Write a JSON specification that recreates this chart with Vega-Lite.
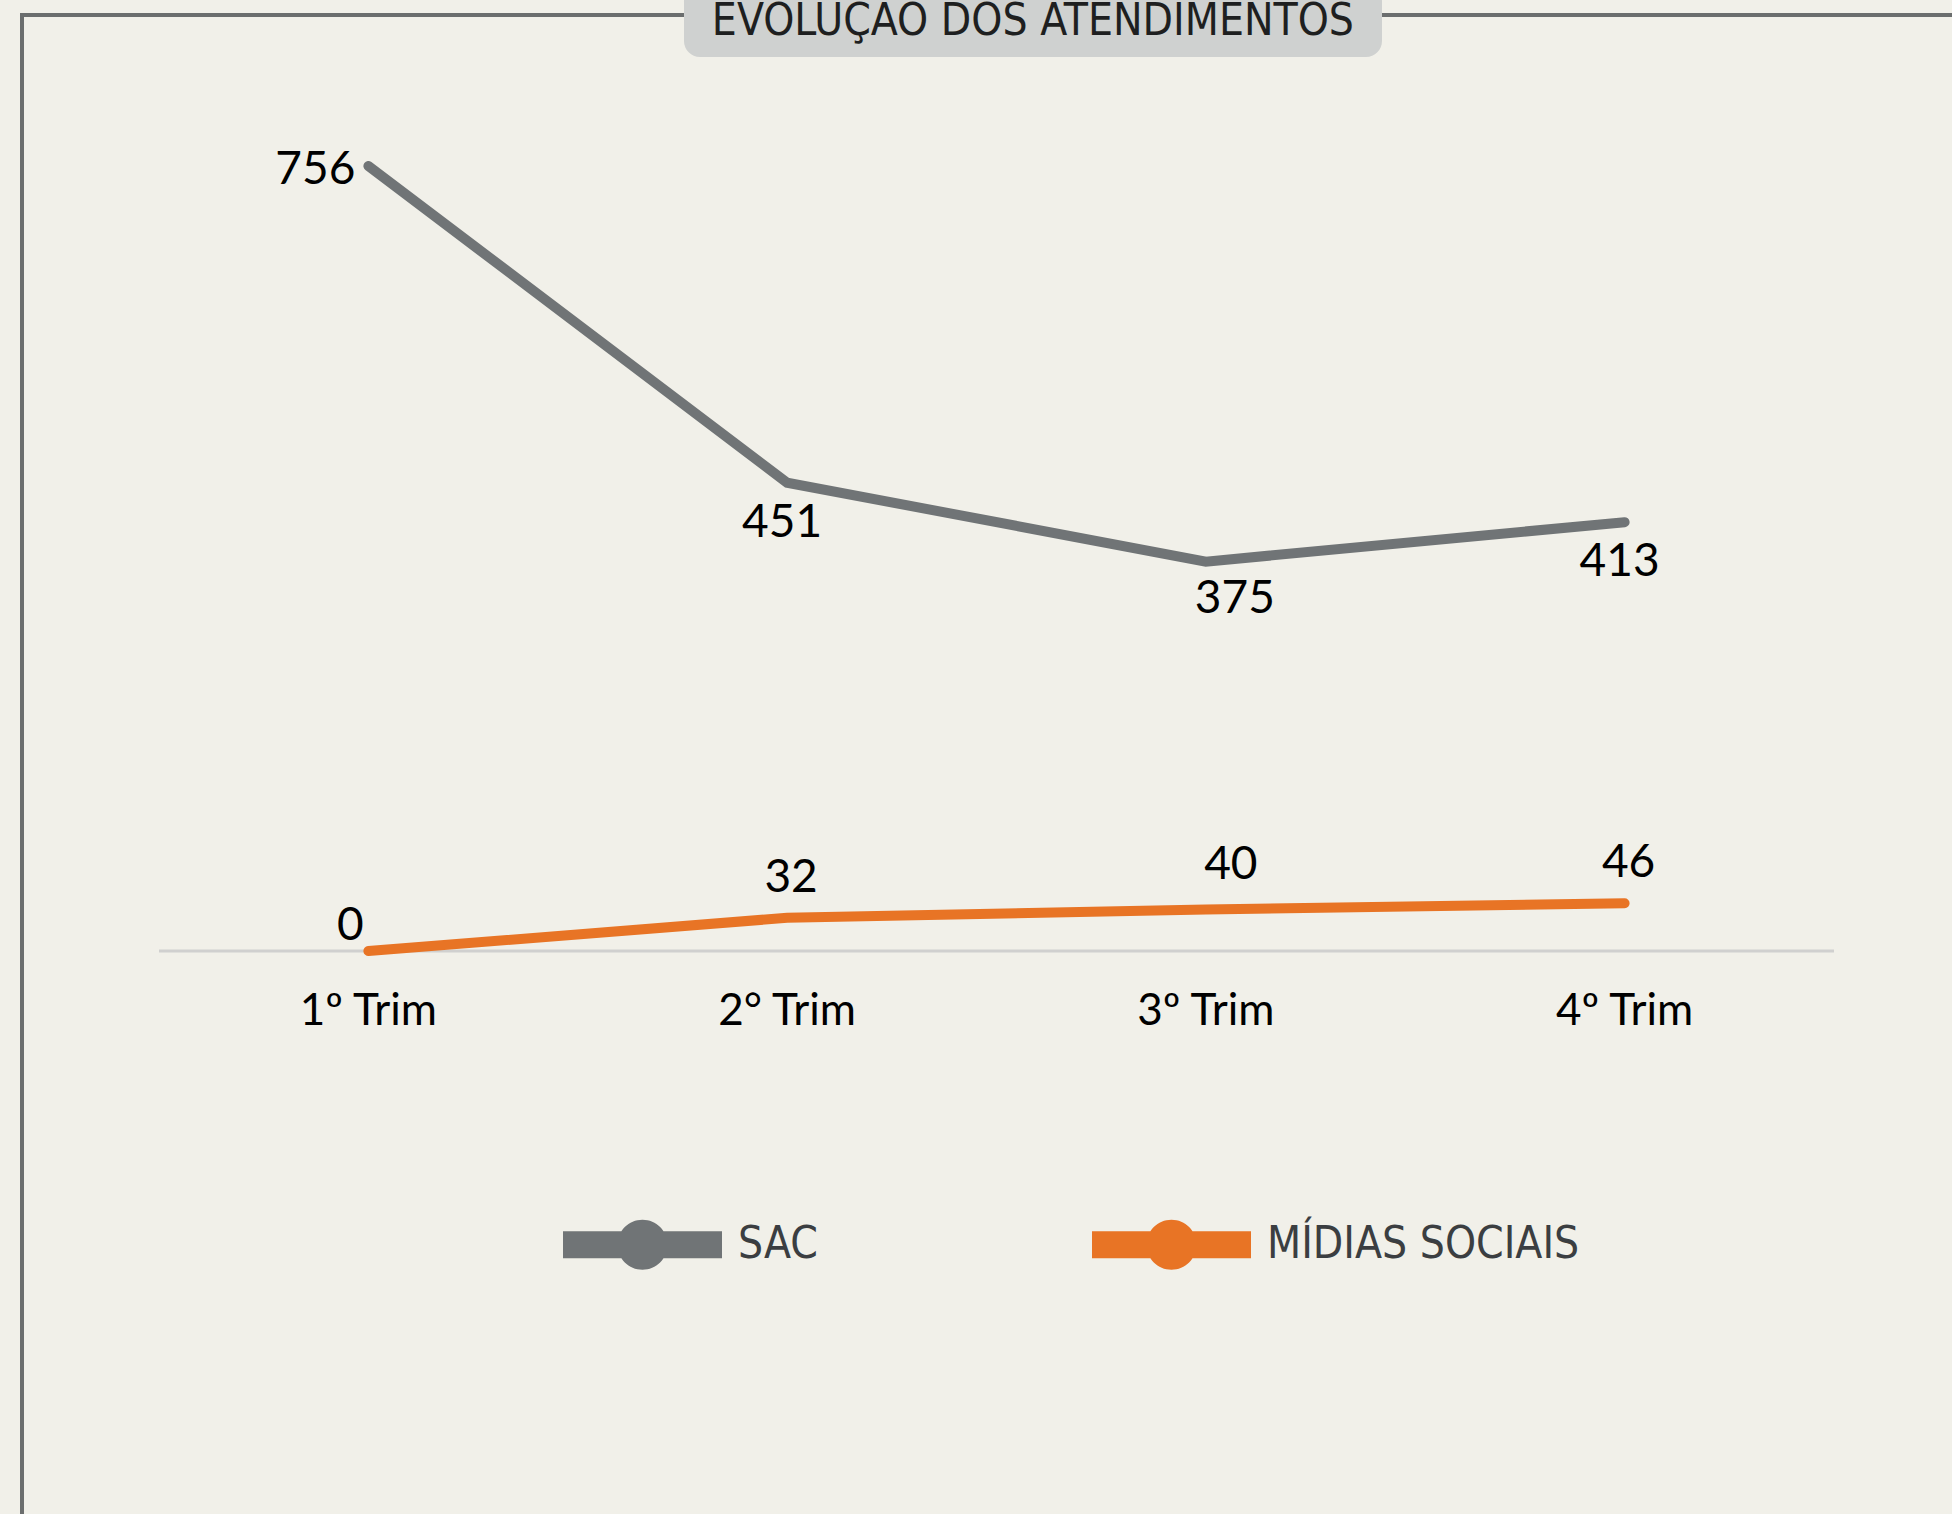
{
  "$schema": "https://vega.github.io/schema/vega-lite/v6.json",
  "autosize": "none",
  "width": 1949,
  "height": 1520,
  "padding": {"left": 22, "top": 15, "right": -19, "bottom": -21},
  "background": "#f1f0e9",
  "config": {"view": {"stroke": "#6b6e6e", "strokeWidth": 4}},
  "data": {
    "values": [
      {"trim": "1º Trim", "serie": "SAC", "valor": 756},
      {"trim": "2° Trim", "serie": "SAC", "valor": 451},
      {"trim": "3º Trim", "serie": "SAC", "valor": 375},
      {"trim": "4º Trim", "serie": "SAC", "valor": 413},
      {"trim": "1º Trim", "serie": "MÍDIAS SOCIAIS", "valor": 0},
      {"trim": "2° Trim", "serie": "MÍDIAS SOCIAIS", "valor": 32},
      {"trim": "3º Trim", "serie": "MÍDIAS SOCIAIS", "valor": 40},
      {"trim": "4º Trim", "serie": "MÍDIAS SOCIAIS", "valor": 46}
    ]
  },
  "encoding": {
    "x": {
      "field": "trim",
      "type": "nominal",
      "bandPosition": 0.5,
      "scale": {"type": "band", "domain": ["1º Trim", "2° Trim", "3º Trim", "4º Trim"], "paddingInner": 0, "paddingOuter": 0.3272},
      "axis": null
    },
    "y": {
      "field": "valor",
      "type": "quantitative",
      "scale": {"domain": [-562.4, 901.4], "nice": false, "zero": false},
      "axis": null
    }
  },
  "layer": [
    {
      "transform": [{"filter": "datum.serie == 'SAC' && datum.valor == 756"}],
      "mark": {"type": "rect", "fill": "#cfd1d0", "cornerRadius": 16},
      "encoding": {
        "x": {"datum": "2° Trim", "bandPosition": 0.2537},
        "x2": {"datum": "3º Trim", "bandPosition": 0.9206},
        "y": {"datum": 930},
        "y2": {"datum": 861}
      }
    },
    {
      "transform": [{"filter": "datum.serie == 'SAC' && datum.valor == 756"}],
      "mark": {"type": "rule", "color": "#d0d0cf", "strokeWidth": 3},
      "encoding": {
        "x": {"datum": "1º Trim", "bandPosition": 0},
        "x2": {"datum": "4º Trim", "bandPosition": 1},
        "y": {"datum": 0}
      }
    },
    {
      "mark": {"type": "line", "strokeWidth": 10, "strokeCap": "round", "strokeJoin": "miter"},
      "encoding": {
        "color": {
          "field": "serie",
          "type": "nominal",
          "scale": {"domain": ["SAC", "MÍDIAS SOCIAIS"], "range": ["#707476", "#e87425"]},
          "legend": {
            "title": null,
            "orient": "none",
            "legendX": 541,
            "legendY": 1150,
            "direction": "horizontal",
            "symbolType": "M-1,-0.17H1V0.17H-1Z M-0.3145,0 A0.3145,0.3145 0 1,1 0.3145,0 A0.3145,0.3145 0 1,1 -0.3145,0 Z",
            "symbolSize": 25281,
            "symbolStrokeWidth": 0,
            "labelFont": "DejaVu Sans Condensed",
            "labelFontSize": 44,
            "labelColor": "#3b3e41",
            "labelOffset": 16,
            "columnPadding": 274,
            "labelLimit": 600,
            "encode": {
              "symbols": {
                "update": {
                  "fill": {"scale": "color", "field": "value"},
                  "stroke": {"value": "transparent"},
                  "opacity": {"value": 1}
                }
              }
            }
          }
        }
      }
    },
    {
      "transform": [{"filter": "datum.serie == 'SAC' && datum.valor == 756"}],
      "mark": {"type": "text", "font": "DejaVu Sans Condensed", "fontSize": 44, "color": "#1e1f20", "baseline": "alphabetic", "align": "center"},
      "encoding": {
        "x": {"datum": "3º Trim", "bandPosition": 0.087},
        "y": {"datum": 882},
        "text": {"value": "EVOLUÇÃO DOS ATENDIMENTOS"}
      }
    },
    {
      "transform": [{"filter": "datum.serie == 'SAC'"}],
      "mark": {"type": "text", "font": "Lato", "fontSize": 44, "color": "#000000", "baseline": "middle", "align": "center", "dy": 61},
      "encoding": {"y": {"datum": 0}, "text": {"field": "trim"}}
    },
    {
      "transform": [{"filter": "datum.serie == 'SAC' && (datum.trim == '2° Trim' || datum.trim == '4º Trim')"}],
      "mark": {"type": "text", "font": "Lato", "fontSize": 46, "color": "#000000", "baseline": "middle", "align": "center", "dy": 40, "dx": -5},
      "encoding": {"text": {"field": "valor"}}
    },
    {
      "transform": [{"filter": "datum.serie == 'SAC' && datum.trim == '3º Trim'"}],
      "mark": {"type": "text", "font": "Lato", "fontSize": 46, "color": "#000000", "baseline": "middle", "align": "center", "dy": 37, "dx": 29},
      "encoding": {"text": {"field": "valor"}}
    },
    {
      "transform": [{"filter": "datum.serie == 'SAC' && datum.trim == '1º Trim'"}],
      "mark": {"type": "text", "font": "Lato", "fontSize": 46, "color": "#000000", "baseline": "middle", "align": "right", "dy": 4, "dx": -13},
      "encoding": {"text": {"field": "valor"}}
    },
    {
      "transform": [{"filter": "datum.serie != 'SAC' && (datum.trim == '2° Trim' || datum.trim == '4º Trim')"}],
      "mark": {"type": "text", "font": "Lato", "fontSize": 46, "color": "#000000", "baseline": "middle", "align": "center", "dy": -40, "dx": 4},
      "encoding": {"text": {"field": "valor"}}
    },
    {
      "transform": [{"filter": "datum.serie != 'SAC' && datum.trim == '3º Trim'"}],
      "mark": {"type": "text", "font": "Lato", "fontSize": 46, "color": "#000000", "baseline": "middle", "align": "center", "dy": -44, "dx": 25},
      "encoding": {"text": {"field": "valor"}}
    },
    {
      "transform": [{"filter": "datum.serie != 'SAC' && datum.trim == '1º Trim'"}],
      "mark": {"type": "text", "font": "Lato", "fontSize": 46, "color": "#000000", "baseline": "middle", "align": "center", "dy": -25, "dx": -18},
      "encoding": {"text": {"field": "valor"}}
    }
  ]
}
